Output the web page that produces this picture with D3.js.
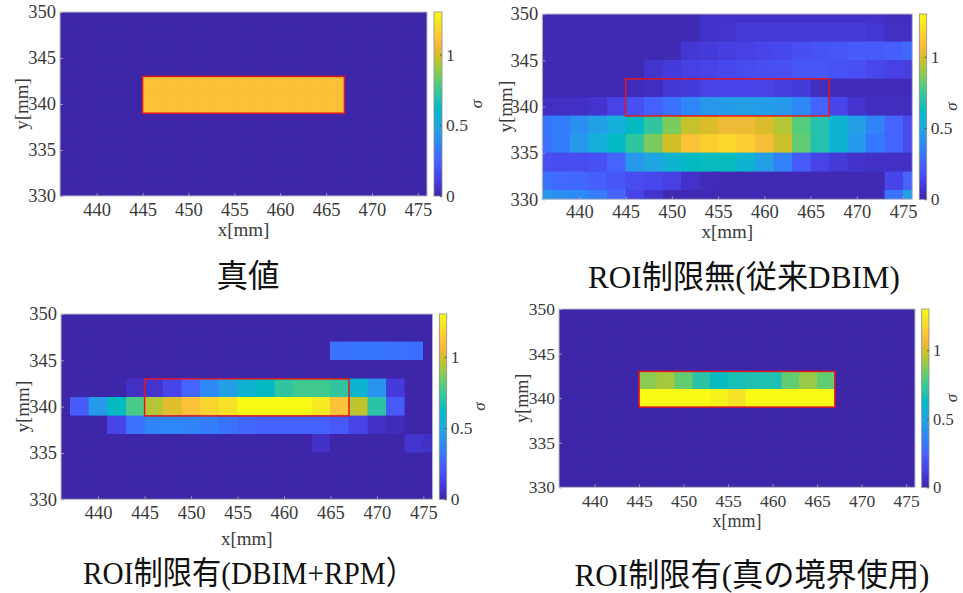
<!DOCTYPE html>
<html>
<head>
<meta charset="utf-8">
<script src="https://cdn.jsdelivr.net/npm/d3@7"></script>
<style>
	body { margin: 0; background: #fff; }
	svg { display: block; }
</style>
</head>
<body>
<div id="chart"></div>
<script>
// cell centres (mm), columns left->right, rows top->bottom
const xCells = [436, 438, 440, 442, 444, 446, 448, 450, 452, 454, 456, 458, 460, 462, 464, 466, 468, 470, 472, 474, 476];
const yCells = [350, 348, 346, 344, 342, 340, 338, 336, 334, 332, 330];
const xTicks = [440, 445, 450, 455, 460, 465, 470, 475];
const yTicks = [330, 335, 340, 345, 350];
const cbarTicks = [0, 0.5, 1];
const sigmaMax = 1.3;
// true ROI boundary [xmin, xmax, ymin, ymax]
const roiBox = [445, 467, 339, 343];

const titles = ['真値', 'ROI制限無(従来DBIM)', 'ROI制限有(DBIM+RPM）', 'ROI制限有(真の境界使用)'];

const sigmaTrue = [
	[0, 0, 0, 0, 0, 0, 0, 0, 0, 0, 0, 0, 0, 0, 0, 0, 0, 0, 0, 0, 0],
	[0, 0, 0, 0, 0, 0, 0, 0, 0, 0, 0, 0, 0, 0, 0, 0, 0, 0, 0, 0, 0],
	[0, 0, 0, 0, 0, 0, 0, 0, 0, 0, 0, 0, 0, 0, 0, 0, 0, 0, 0, 0, 0],
	[0, 0, 0, 0, 0, 0, 0, 0, 0, 0, 0, 0, 0, 0, 0, 0, 0, 0, 0, 0, 0],
	[0, 0, 0, 0, 0, 1.1, 1.1, 1.1, 1.1, 1.1, 1.1, 1.1, 1.1, 1.1, 1.1, 1.1, 0, 0, 0, 0, 0],
	[0, 0, 0, 0, 0, 1.1, 1.1, 1.1, 1.1, 1.1, 1.1, 1.1, 1.1, 1.1, 1.1, 1.1, 0, 0, 0, 0, 0],
	[0, 0, 0, 0, 0, 0, 0, 0, 0, 0, 0, 0, 0, 0, 0, 0, 0, 0, 0, 0, 0],
	[0, 0, 0, 0, 0, 0, 0, 0, 0, 0, 0, 0, 0, 0, 0, 0, 0, 0, 0, 0, 0],
	[0, 0, 0, 0, 0, 0, 0, 0, 0, 0, 0, 0, 0, 0, 0, 0, 0, 0, 0, 0, 0],
	[0, 0, 0, 0, 0, 0, 0, 0, 0, 0, 0, 0, 0, 0, 0, 0, 0, 0, 0, 0, 0],
	[0, 0, 0, 0, 0, 0, 0, 0, 0, 0, 0, 0, 0, 0, 0, 0, 0, 0, 0, 0, 0]
];

const sigmaConv = [
	[0.02, 0.02, 0.02, 0.02, 0.02, 0.02, 0.02, 0.02, 0.02, 0.06, 0.06, 0.06, 0.06, 0.06, 0.06, 0.06, 0.06, 0.06, 0.06, 0.04, 0.04],
	[0.02, 0.02, 0.02, 0.02, 0.02, 0.02, 0.02, 0.02, 0.02, 0.06, 0.07, 0.09, 0.09, 0.09, 0.09, 0.09, 0.09, 0.09, 0.08, 0.05, 0.05],
	[0.02, 0.02, 0.02, 0.02, 0.02, 0.02, 0.02, 0.02, 0.08, 0.1, 0.11, 0.12, 0.14, 0.15, 0.17, 0.19, 0.2, 0.22, 0.22, 0.23, 0.27],
	[0.02, 0.02, 0.02, 0.02, 0.02, 0.02, 0.07, 0.1, 0.12, 0.13, 0.15, 0.16, 0.17, 0.18, 0.2, 0.2, 0.19, 0.18, 0.15, 0.12, 0.11],
	[0.02, 0.02, 0.02, 0.02, 0.02, 0.03, 0.04, 0.08, 0.1, 0.13, 0.14, 0.14, 0.13, 0.11, 0.1, 0.04, 0.03, 0.03, 0.03, 0.03, 0.03],
	[0.05, 0.05, 0.05, 0.07, 0.13, 0.18, 0.24, 0.3, 0.37, 0.43, 0.46, 0.47, 0.46, 0.44, 0.38, 0.25, 0.14, 0.07, 0.04, 0.04, 0.04],
	[0.31, 0.34, 0.4, 0.47, 0.54, 0.62, 0.72, 0.86, 0.97, 1.01, 1.05, 1.05, 1.01, 0.94, 0.8, 0.68, 0.58, 0.47, 0.36, 0.25, 0.16],
	[0.3, 0.34, 0.44, 0.54, 0.62, 0.72, 0.86, 0.99, 1.1, 1.15, 1.18, 1.15, 1.08, 0.98, 0.82, 0.68, 0.58, 0.44, 0.32, 0.25, 0.16],
	[0.18, 0.16, 0.16, 0.18, 0.25, 0.44, 0.5, 0.57, 0.62, 0.63, 0.63, 0.58, 0.47, 0.35, 0.22, 0.13, 0.09, 0.06, 0.05, 0.05, 0.05],
	[0.3, 0.27, 0.26, 0.23, 0.2, 0.16, 0.15, 0.12, 0.06, 0.03, 0.02, 0.02, 0.02, 0.02, 0.02, 0.02, 0.02, 0.02, 0.02, 0.14, 0.25],
	[0.44, 0.4, 0.38, 0.33, 0.25, 0.13, 0.07, 0.02, 0.02, 0.02, 0.02, 0.02, 0.02, 0.02, 0.02, 0.02, 0.02, 0.02, 0.02, 0.3, 0.47]
];

const sigmaRpm = [
	[0, 0, 0, 0, 0, 0, 0, 0, 0, 0, 0, 0, 0, 0, 0, 0, 0, 0, 0, 0, 0],
	[0, 0, 0, 0, 0, 0, 0, 0, 0, 0, 0, 0, 0, 0, 0, 0, 0, 0, 0, 0, 0],
	[0, 0, 0, 0, 0, 0, 0, 0, 0, 0, 0, 0, 0, 0, 0, 0.3, 0.31, 0.31, 0.3, 0.29, 0],
	[0, 0, 0, 0, 0, 0, 0, 0, 0, 0, 0, 0, 0, 0, 0, 0, 0, 0, 0, 0, 0],
	[0, 0, 0, 0, 0.05, 0.07, 0.14, 0.25, 0.38, 0.47, 0.57, 0.62, 0.72, 0.76, 0.76, 0.72, 0.58, 0.42, 0.1, 0, 0],
	[0, 0.22, 0.44, 0.62, 0.78, 0.94, 1.02, 1.1, 1.17, 1.22, 1.3, 1.3, 1.3, 1.3, 1.25, 1.1, 0.96, 0.7, 0.22, 0, 0],
	[0, 0, 0, 0.14, 0.3, 0.36, 0.37, 0.36, 0.34, 0.3, 0.26, 0.24, 0.24, 0.24, 0.24, 0.21, 0.13, 0.05, 0.03, 0, 0],
	[0, 0, 0, 0, 0, 0, 0, 0, 0, 0, 0, 0, 0, 0, 0.05, 0, 0, 0, 0, 0.07, 0.05],
	[0, 0, 0, 0, 0, 0, 0, 0, 0, 0, 0, 0, 0, 0, 0, 0, 0, 0, 0, 0, 0],
	[0, 0, 0, 0, 0, 0, 0, 0, 0, 0, 0, 0, 0, 0, 0, 0, 0, 0, 0, 0, 0],
	[0, 0, 0, 0, 0, 0, 0, 0, 0, 0, 0, 0, 0, 0, 0, 0, 0, 0, 0, 0, 0]
];

const sigmaRoiTrue = [
	[0, 0, 0, 0, 0, 0, 0, 0, 0, 0, 0, 0, 0, 0, 0, 0, 0, 0, 0, 0, 0],
	[0, 0, 0, 0, 0, 0, 0, 0, 0, 0, 0, 0, 0, 0, 0, 0, 0, 0, 0, 0, 0],
	[0, 0, 0, 0, 0, 0, 0, 0, 0, 0, 0, 0, 0, 0, 0, 0, 0, 0, 0, 0, 0],
	[0, 0, 0, 0, 0, 0, 0, 0, 0, 0, 0, 0, 0, 0, 0, 0, 0, 0, 0, 0, 0],
	[0, 0, 0, 0, 0, 0.88, 0.92, 0.82, 0.7, 0.63, 0.66, 0.67, 0.67, 0.82, 0.9, 0.82, 0, 0, 0, 0, 0],
	[0, 0, 0, 0, 0, 1.3, 1.3, 1.3, 1.3, 1.27, 1.22, 1.3, 1.3, 1.3, 1.3, 1.3, 0, 0, 0, 0, 0],
	[0, 0, 0, 0, 0, 0, 0, 0, 0, 0, 0, 0, 0, 0, 0, 0, 0, 0, 0, 0, 0],
	[0, 0, 0, 0, 0, 0, 0, 0, 0, 0, 0, 0, 0, 0, 0, 0, 0, 0, 0, 0, 0],
	[0, 0, 0, 0, 0, 0, 0, 0, 0, 0, 0, 0, 0, 0, 0, 0, 0, 0, 0, 0, 0],
	[0, 0, 0, 0, 0, 0, 0, 0, 0, 0, 0, 0, 0, 0, 0, 0, 0, 0, 0, 0, 0],
	[0, 0, 0, 0, 0, 0, 0, 0, 0, 0, 0, 0, 0, 0, 0, 0, 0, 0, 0, 0, 0]
];

// matlab parula, every 3rd of 64 entries
const parula = [
	[0.2422, 0.1504, 0.6603], [0.2647, 0.1978, 0.7952], [0.2783, 0.2559, 0.8991], [0.2810, 0.3228, 0.9579],
	[0.2699, 0.3892, 0.9906], [0.2206, 0.4603, 0.9973], [0.1786, 0.5289, 0.9682], [0.1540, 0.5902, 0.9218],
	[0.1248, 0.6459, 0.8883], [0.0689, 0.6948, 0.8394], [0.0067, 0.7312, 0.7660], [0.1408, 0.7584, 0.6842],
	[0.2161, 0.7843, 0.5923], [0.3406, 0.8008, 0.4789], [0.5044, 0.7993, 0.3480], [0.6720, 0.7793, 0.2227],
	[0.8203, 0.7498, 0.1535], [0.9393, 0.7288, 0.2100], [0.9970, 0.7659, 0.2199], [0.9786, 0.8386, 0.1766],
	[0.9597, 0.9135, 0.1423], [0.9769, 0.9839, 0.0805]
].map(c => d3.rgb(c[0] * 255, c[1] * 255, c[2] * 255).formatHex());

const color = d3.scaleSequential(d3.piecewise(d3.interpolateRgb, parula))
	.domain([0, sigmaMax])
	.clamp(true);

const serif = '"Liberation Serif", "Times New Roman", "Noto Sans CJK JP", serif';

// panel placement on the page
const layout = [
	{ x0: 60, x1: 427, y0: 12, y1: 196, cb0: 434, cb1: 442, font: 18.5, tickBase: 20, labelBase: 40, yLab: 28, sig: 482 },
	{ x0: 542.3, x1: 912.3, y0: 14, y1: 199.3, cb0: 919.3, cb1: 926.7, font: 18.5, tickBase: 19, labelBase: 39, yLab: 512, sig: 957 },
	{ x0: 61, x1: 432.6, y0: 314, y1: 499.3, cb0: 439.3, cb1: 446.7, font: 18.5, tickBase: 20, labelBase: 46, yLab: 29, sig: 485 },
	{ x0: 559, x1: 915, y0: 309, y1: 487.3, cb0: 921.7, cb1: 929, font: 17.5, tickBase: 20, labelBase: 40, yLab: 528, sig: 957 }
];
const titleLayout = [
	{ cx: 248, base: 287, w: 63 },
	{ cx: 744, base: 288, w: 312 },
	{ cx: 249, base: 584, w: 332 },
	{ cx: 752, base: 586, w: 355 }
];

const width = 963;
const height = 593;

const $svg = d3.select('#chart').append('svg')
	.attr('width', width)
	.attr('height', height);

const $defs = $svg.append('defs');
const grad = $defs.append('linearGradient')
	.attr('id', 'parula')
	.attr('x1', 0).attr('y1', 1)
	.attr('x2', 0).attr('y2', 0);
grad.selectAll('stop')
	.data(parula)
	.enter()
	.append('stop')
	.attr('offset', (d, i) => i / (parula.length - 1))
	.attr('stop-color', d => d);

function createPanel(grid, L, idx) {
	const scaleX = d3.scaleLinear().domain(d3.extent(xCells)).range([L.x0, L.x1]);
	const scaleY = d3.scaleLinear().domain(d3.extent(yCells)).range([L.y1, L.y0]);
	const scaleC = d3.scaleLinear().domain([0, sigmaMax]).range([L.y1, L.y0]);
	const half = 1;

	const cells = [];
	grid.forEach((row, i) => row.forEach((v, j) => cells.push({ x: xCells[j], y: yCells[i], v })));

	$defs.append('clipPath').attr('id', `clip${idx}`)
		.append('rect')
		.attr('x', L.x0).attr('y', L.y0)
		.attr('width', L.x1 - L.x0).attr('height', L.y1 - L.y0);

	const $g = $svg.append('g').attr('class', `panel panel-${idx}`);

	// heatmap cells
	$g.append('g')
		.attr('clip-path', `url(#clip${idx})`)
		.selectAll('rect')
		.data(cells)
		.enter()
		.append('rect')
		.attr('x', d => scaleX(d.x - half))
		.attr('y', d => scaleY(d.y + half))
		.attr('width', d => scaleX(d.x + half) - scaleX(d.x - half))
		.attr('height', d => scaleY(d.y - half) - scaleY(d.y + half))
		.attr('fill', d => color(d.v))
		.attr('stroke', d => color(d.v))
		.attr('stroke-width', 0.4)
		.attr('shape-rendering', 'crispEdges');

	// true boundary
	$g.append('rect')
		.attr('x', scaleX(roiBox[0]))
		.attr('y', scaleY(roiBox[3]))
		.attr('width', scaleX(roiBox[1]) - scaleX(roiBox[0]))
		.attr('height', scaleY(roiBox[2]) - scaleY(roiBox[3]))
		.attr('fill', 'none')
		.attr('stroke', '#e3161f')
		.attr('stroke-width', 1.5);

	// axes
	const $ax = $g.append('g')
		.attr('transform', `translate(0,${L.y1})`)
		.call(d3.axisBottom(scaleX).tickValues(xTicks).tickSize(-3).tickFormat(d3.format('d')));
	const $ay = $g.append('g')
		.attr('transform', `translate(${L.x0},0)`)
		.call(d3.axisLeft(scaleY).tickValues(yTicks).tickSize(-3).tickPadding(4).tickFormat(d3.format('d')));
	[$ax, $ay].forEach($a => {
		$a.attr('font-family', null).attr('font-size', null);
		$a.select('.domain').remove();
		$a.selectAll('line').attr('stroke', '#9a9aa6');
		$a.selectAll('text')
			.style('font-family', serif)
			.style('font-size', `${L.font}px`)
			.attr('fill', '#3a3a3a');
	});
	$ax.selectAll('text').attr('y', L.tickBase).attr('dy', null);
	$ay.selectAll('text').attr('x', -4);

	$g.append('rect')
		.attr('x', L.x0).attr('y', L.y0)
		.attr('width', L.x1 - L.x0).attr('height', L.y1 - L.y0)
		.attr('fill', 'none')
		.attr('stroke', '#b9b9c4')
		.attr('stroke-width', 1);

	$g.append('text')
		.attr('x', (L.x0 + L.x1) / 2)
		.attr('y', L.y1 + L.labelBase)
		.attr('text-anchor', 'middle')
		.attr('fill', '#3a3a3a')
		.style('font-family', serif)
		.style('font-size', `${L.font + 0.5}px`)
		.text('x[mm]');

	$g.append('text')
		.attr('transform', `translate(${L.yLab},${(L.y0 + L.y1) / 2}) rotate(-90)`)
		.attr('text-anchor', 'middle')
		.attr('fill', '#3a3a3a')
		.style('font-family', serif)
		.style('font-size', `${L.font + 0.5}px`)
		.text('y[mm]');

	// colorbar
	$g.append('rect')
		.attr('x', L.cb0).attr('y', L.y0)
		.attr('width', L.cb1 - L.cb0).attr('height', L.y1 - L.y0)
		.attr('fill', 'url(#parula)')
		.attr('stroke', '#8c8c8c')
		.attr('stroke-width', 0.8);

	const $cb = $g.append('g')
		.attr('transform', `translate(${L.cb1},0)`)
		.call(d3.axisRight(scaleC).tickValues(cbarTicks).tickSize(-2).tickPadding(4).tickFormat(d => d));
	$cb.attr('font-family', null).attr('font-size', null);
	$cb.select('.domain').remove();
	$cb.selectAll('line').attr('stroke', '#555');
	$cb.selectAll('text')
		.style('font-family', serif)
		.style('font-size', `${L.font - 1}px`)
		.attr('fill', '#3a3a3a')
		.attr('x', 4);

	$g.append('text')
		.attr('transform', `translate(${L.sig},${(L.y0 + L.y1) / 2}) rotate(-90)`)
		.attr('text-anchor', 'middle')
		.attr('fill', '#3a3a3a')
		.style('font-family', serif)
		.style('font-size', '17px')
		.style('font-style', 'italic')
		.text('σ');
}

[sigmaTrue, sigmaConv, sigmaRpm, sigmaRoiTrue].forEach((grid, i) => createPanel(grid, layout[i], i));

$svg.selectAll('text.title')
	.data(titles)
	.enter()
	.append('text')
	.attr('class', 'title')
	.attr('x', (d, i) => titleLayout[i].cx)
	.attr('y', (d, i) => titleLayout[i].base)
	.attr('text-anchor', 'middle')
	.attr('textLength', (d, i) => titleLayout[i].w)
	.attr('lengthAdjust', 'spacingAndGlyphs')
	.attr('fill', '#111')
	.style('font-family', serif)
	.style('font-size', '32px')
	.text(d => d);
</script>
</body>
</html>
